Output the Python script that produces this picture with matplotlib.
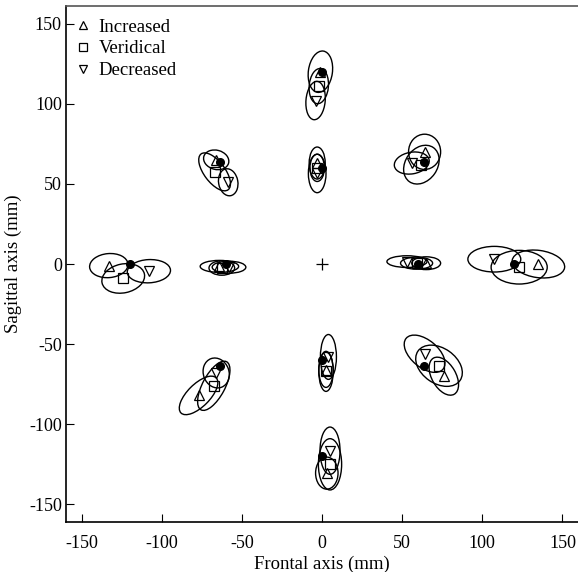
import matplotlib
matplotlib.use("Agg")
import matplotlib.pyplot as plt
from matplotlib.patches import Ellipse

plt.rcParams['font.family'] = ['Liberation Serif', 'DejaVu Serif']
plt.rcParams['axes.unicode_minus'] = False

# target positions (mm)
target_x = [0, 0, -63.6, 63.6, -120, -60, 60, 120, -63.6, 63.6, 0, 0]
target_y = [120, 60, 63.6, 63.6, 0, 0, 0, 0, -63.6, -63.6, -60, -120]

# Increased gain: mean endpoints and ellipse (width, height, angle)
inc_x = [-1, -3, -66, 64, -133, -64, 65, 135, -77, 76, 2.5, 3]
inc_y = [120, 63, 65, 70, -1, -1.5, 0.5, 0, -82, -70, -66, -130.5]
inc_w = [15, 10, 16, 20, 24, 24, 18, 33, 31, 26, 9, 14]
inc_h = [26, 20, 12, 22, 15, 7.5, 8, 17, 14, 15, 22, 20]
inc_a = [-8, 0, -15, 0, 5, 0, 0, -8, 45, -60, 0, 0]

# Veridical
ver_x = [-2, -3, -67, 62, -124, -62.5, 59, 123, -67.5, 73, 2.5, 5]
ver_y = [111, 60, 57.5, 62, -9, -2.5, 0.5, -2, -76, -63.5, -67, -125]
ver_w = [12, 9, 28, 26, 27, 16, 20, 35, 34, 32, 9, 14.5]
ver_h = [22, 17, 13, 20, 18, 9, 7.5, 21, 14, 22, 25, 32]
ver_a = [-5, 0, -53, 55, 12, 0, 0, 0, 62, -35, 0, 0]

# Decreased gain
dec_x = [-4, -3, -58.5, 56, -108, -58, 53, 107.5, -66, 64, 4, 5]
dec_y = [102, 56.5, 51, 63, -4.5, -2, 1.5, 3, -68, -56, -58, -116.5]
dec_w = [12, 11, 12, 22, 27, 21, 25, 33, 16, 30, 10, 12.5]
dec_h = [24, 24, 17, 13.5, 14.5, 7.5, 7.3, 16, 19, 17, 28, 29.5]
dec_a = [-5, 0, 10, 10, 3, 0, 0, 0, 20, -40, 0, 0]

labels = ["Increased", "Veridical", "Decreased"]
xticks = [-150, -100, -50, 0, 50, 100, 150]
yticks = [-150, -100, -50, 0, 50, 100, 150]

fig = plt.figure(figsize=(5.78, 5.72), dpi=100)
ax = fig.add_axes([66 / 578, 50 / 572, 1 - 66 / 578, 516 / 572])

groups = [
    (inc_x, inc_y, inc_w, inc_h, inc_a, '^', labels[0]),
    (ver_x, ver_y, ver_w, ver_h, ver_a, 's', labels[1]),
    (dec_x, dec_y, dec_w, dec_h, dec_a, 'v', labels[2]),
]
for gx, gy, gw, gh, ga, mk, lab in groups:
    for x, y, w, h, a in zip(gx, gy, gw, gh, ga):
        ax.add_patch(Ellipse((x, y), w, h, angle=a, fill=False,
                             edgecolor='black', linewidth=1.0))
for gx, gy, gw, gh, ga, mk, lab in groups:
    ax.plot(gx, gy, linestyle='none', marker=mk, markersize=6.5,
            markerfacecolor='none', markeredgecolor='black',
            markeredgewidth=0.9, label=lab)

ax.plot(target_x, target_y, linestyle='none', marker='o', markersize=5.5,
        color='black')
ax.plot([0], [0], linestyle='none', marker='+', markersize=8, color='black',
        markeredgewidth=0.9)

ax.set_xlim(-159.7, 159.7)
ax.set_ylim(-161, 161)
ax.set_xticks(xticks)
ax.set_yticks(yticks)
ax.tick_params(direction='in', length=6, labelsize=13)
ax.tick_params(axis='x', pad=9)
ax.tick_params(axis='y', pad=3)
ax.spines['right'].set_visible(False)
for s in ['left', 'bottom', 'top']:
    ax.spines[s].set_linewidth(1.2)
ax.spines['top'].set_color('#555555')

ax.set_xlabel("Frontal axis (mm)", fontsize=13.5, labelpad=3)
ax.set_ylabel("Sagittal axis (mm)", fontsize=13.5, labelpad=5)

ax.legend(loc='upper left', bbox_to_anchor=(0.0, 1 - 3 / 516), frameon=False,
          fontsize=13.5, handlelength=0.8, handletextpad=0.45,
          borderaxespad=0.3, labelspacing=0.25, borderpad=0.2,
          markerscale=0.8)

fig.savefig("out.png", dpi=100)
